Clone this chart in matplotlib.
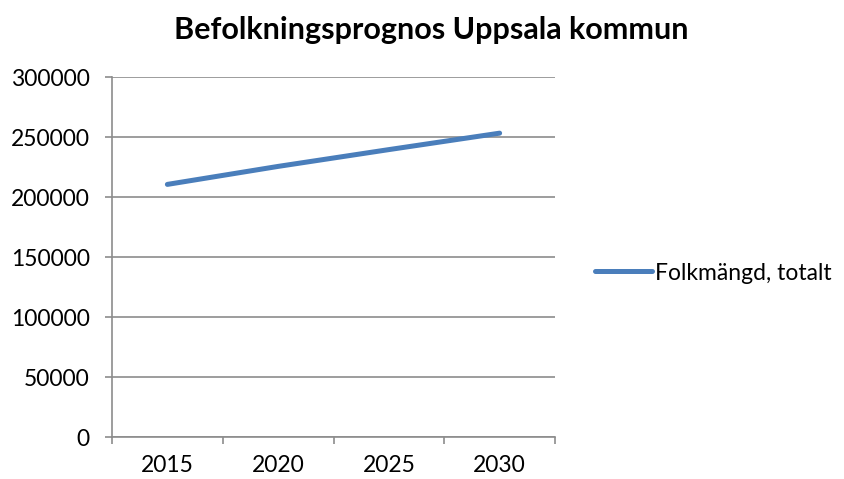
import matplotlib
matplotlib.use("Agg")
import matplotlib.pyplot as plt
import numpy as np

years = ["2015", "2020", "2025", "2030"]
population = [210500, 225500, 239500, 253200]
yticks = [0, 50000, 100000, 150000, 200000, 250000, 300000]

plt.rcParams['font.family'] = ['Lato', 'DejaVu Sans']

grid_col = '#8c8c8c'
line_col = '#4a7ebb'

fig = plt.figure(figsize=(8.45, 4.79), dpi=100)
ax = fig.add_axes([112 / 845, 1 - 437 / 479, (555 - 112) / 845, (437 - 77) / 479])

x = np.arange(len(years))
ax.plot(x, population, color=line_col, linewidth=3.6, solid_capstyle='round',
        label="Folkmängd, totalt")

ax.set_xlim(-0.5, len(years) - 0.5)
ax.set_ylim(0, 300000)
ax.set_yticks(yticks)
ax.set_yticklabels([str(v) for v in yticks])
ax.set_xticks(x)
ax.set_xticklabels(years)
ax.set_xticks(np.arange(len(years) + 1) - 0.5, minor=True)

ax.tick_params(axis='x', which='major', length=0, pad=13, labelsize=16.5)
ax.tick_params(axis='x', which='minor', length=5, width=1.2, color=grid_col, direction='out')
ax.tick_params(axis='y', length=5, width=1.2, color=grid_col, direction='out', pad=11, labelsize=16.5)

ax.grid(axis='y', color=grid_col, linewidth=1.2)
ax.set_axisbelow(True)
for side in ['top', 'right']:
    ax.spines[side].set_visible(False)
for side in ['left', 'bottom']:
    ax.spines[side].set_color(grid_col)
    ax.spines[side].set_linewidth(1.2)

fig.text(431 / 845, 1 - 30 / 479, "Befolkningsprognos Uppsala kommun", fontsize=22,
         fontweight='bold', ha='center', va='center')

fig.legend(loc='center left', bbox_to_anchor=(595 / 845, 1 - 273 / 479), frameon=False,
           fontsize=16.5, handlelength=2.5, handletextpad=0.1, borderpad=0, borderaxespad=0)

fig.savefig("out.png", dpi=100)
